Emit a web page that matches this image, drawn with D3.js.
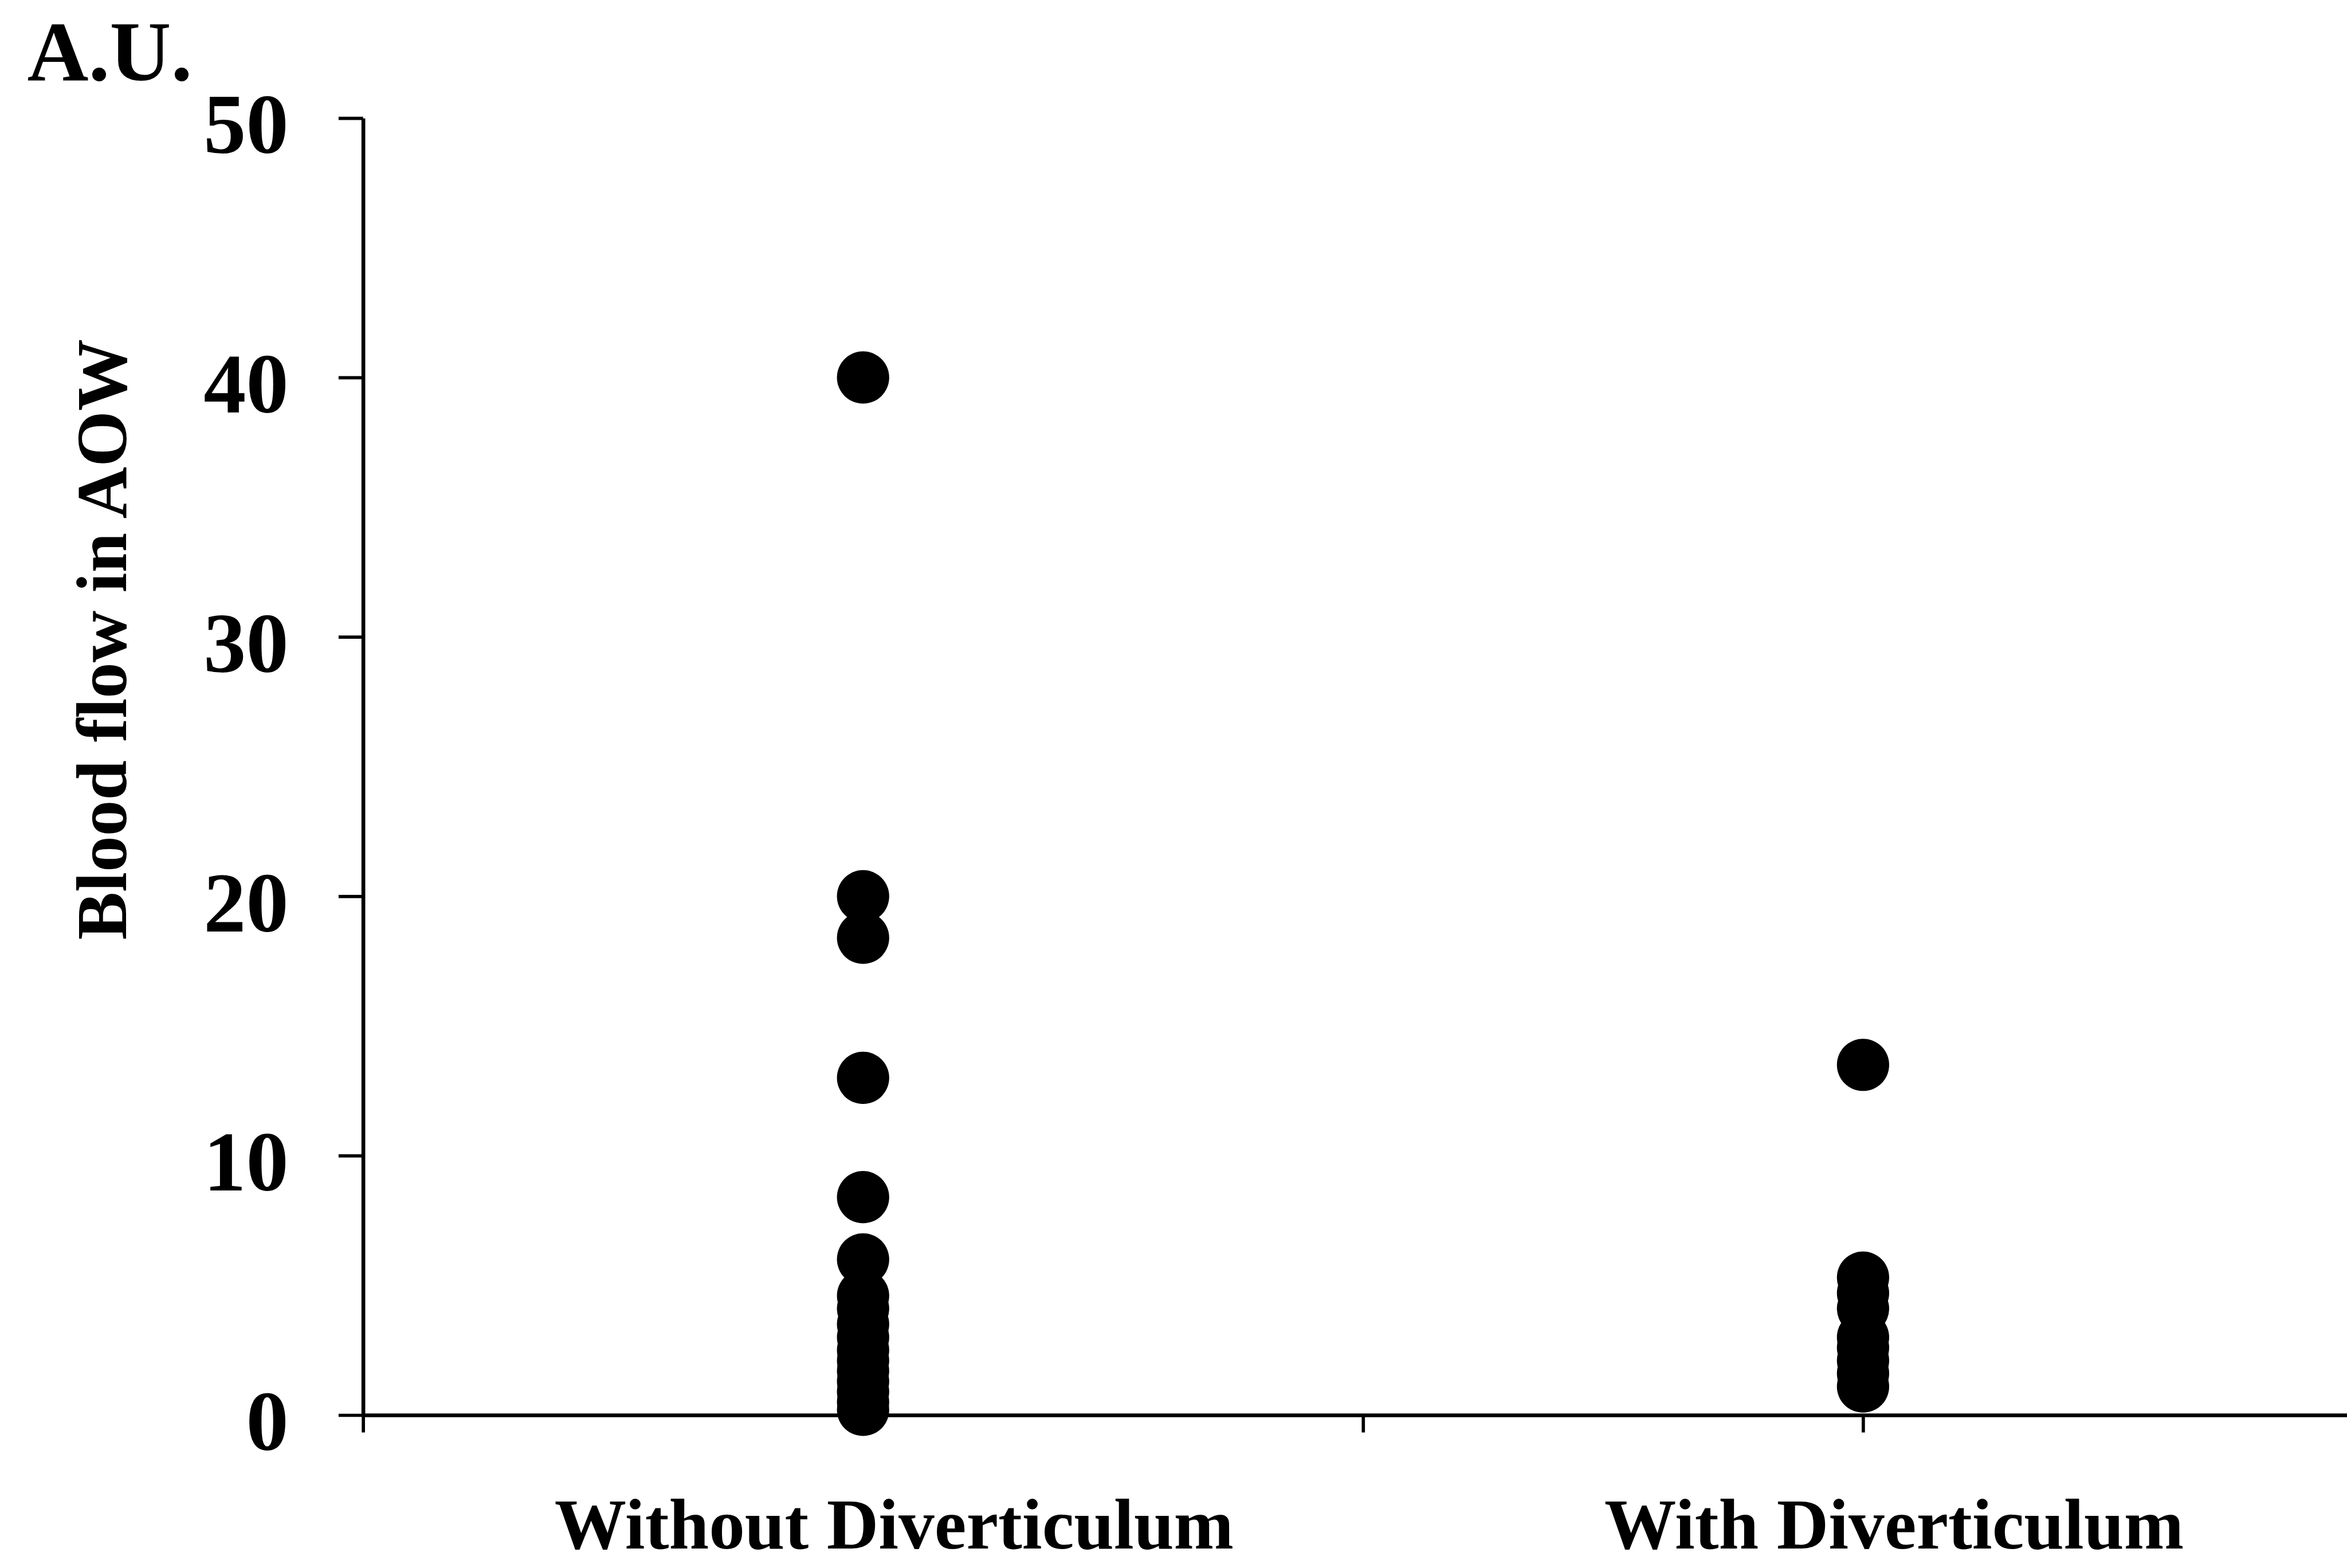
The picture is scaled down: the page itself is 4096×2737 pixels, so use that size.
<!DOCTYPE html>
<html>
<head>
<meta charset="utf-8">
<script src="https://cdn.jsdelivr.net/npm/d3@7"></script>
<style>
  html, body { margin: 0; padding: 0; background: #fff; }
  text { font-family: "Liberation Serif", "Times New Roman", serif; font-weight: bold; fill: #000; }
</style>
</head>
<body>
<div id="scatter"></div>
<script>
// chart data
var categories = ["Without Diverticulum", "With Diverticulum"];
var withoutValues = [40.0, 20.0, 18.4, 13.0, 8.4, 6.0, 4.6, 4.1, 3.5, 3.0, 2.5, 2.1, 1.7, 1.3, 0.9, 0.5, 0.2];
var withValues = [13.5, 5.3, 4.7, 4.1, 3.0, 2.6, 2.1, 1.6, 1.1];
var yTicks = [0, 10, 20, 30, 40, 50];
var xTicks = [0, 0.5, 1, 1.5, 2];
var yTitle = "Blood flow in AOW";
var unitLabel = "A.U.";

var svgWidth = 4096;
var svgHeight = 2737;
var k = 0.95; // everything laid out in reference pixels, then scaled

var svg = d3.select("#scatter")
  .append("svg")
  .attr("width", svgWidth)
  .attr("height", svgHeight);

var chartGroup = svg.append("g")
  .attr("transform", `scale(${k})`);

// scales
var xScale = d3.scaleLinear()
  .domain([0, categories.length])
  .range([667, 4341]);

var yScale = d3.scaleLinear()
  .domain([0, 50])
  .range([2600, 217]);

// axes
var leftAxis = d3.axisLeft(yScale)
  .tickValues(yTicks)
  .tickSize(45)
  .tickSizeOuter(0)
  .tickPadding(92);

var bottomAxis = d3.axisBottom(xScale)
  .tickValues(xTicks)
  .tickSize(32)
  .tickSizeOuter(0)
  .tickFormat("");

var xAxisG = chartGroup.append("g")
  .attr("transform", `translate(0, ${yScale(0)})`)
  .call(bottomAxis);

var yAxisG = chartGroup.append("g")
  .attr("transform", `translate(${xScale(0)}, 0)`)
  .call(leftAxis);

[xAxisG, yAxisG].forEach(function(g) {
  g.select(".domain").attr("stroke", "#000").attr("stroke-width", 7);
  g.selectAll(".tick line").attr("stroke", "#000").attr("stroke-width", 6);
});

yAxisG.selectAll(".tick text")
  .attr("font-size", 156)
  .attr("dy", "0.41em")
  .attr("fill", "#000");

// points
var points = [];
withoutValues.forEach(function(v) { points.push({ cat: 0, value: v }); });
withValues.forEach(function(v) { points.push({ cat: 1, value: v }); });

chartGroup.selectAll("circle")
  .data(points)
  .enter()
  .append("circle")
  .attr("cx", d => xScale(d.cat + 0.5))
  .attr("cy", d => yScale(d.value))
  .attr("r", 48)
  .attr("fill", "#000");

// category labels
chartGroup.selectAll(".cat-label")
  .data(categories)
  .enter()
  .append("text")
  .attr("class", "cat-label")
  .attr("x", (d, i) => xScale(i + 0.5) + 57)
  .attr("y", 2845)
  .attr("text-anchor", "middle")
  .attr("font-size", 132)
  .text(d => d);

// y title
chartGroup.append("text")
  .attr("transform", "translate(232, 1175) rotate(-90)")
  .attr("text-anchor", "middle")
  .attr("font-size", 132)
  .text(yTitle);

// unit label
chartGroup.append("text")
  .attr("x", 50)
  .attr("y", 147)
  .attr("font-size", 156)
  .text(unitLabel);
</script>
</body>
</html>
